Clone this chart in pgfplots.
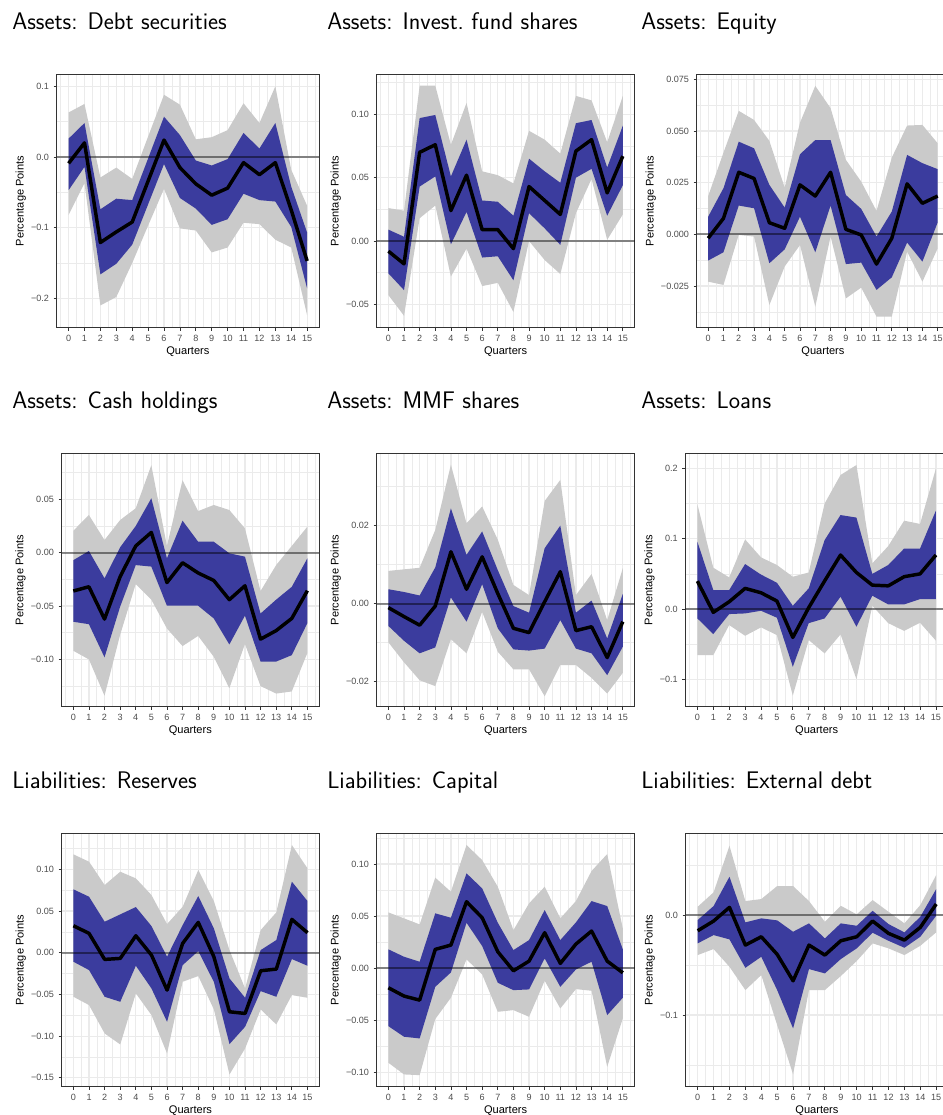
\documentclass[border=0pt]{standalone}
\usepackage{pgfplots}
\pgfplotsset{compat=1.18}
\usepackage{pgfplotstable}
\usepgfplotslibrary{fillbetween}
\usepackage{fontspec}
\newfontfamily\arial{Liberation Sans}
\definecolor{bandblue}{HTML}{3B3C9E}
\definecolor{bandgray}{HTML}{CACACA}
\definecolor{gridc}{HTML}{EBEBEB}
\definecolor{framec}{HTML}{333333}
\definecolor{ticklab}{HTML}{4D4D4D}

\pgfplotstableread{
q m bl bu gl gu
0 -0.009 -0.047 0.026 -0.082 0.063
1 0.020 -0.014 0.048 -0.037 0.075
2 -0.121 -0.166 -0.074 -0.210 -0.029
3 -0.106 -0.151 -0.059 -0.198 -0.015
4 -0.092 -0.124 -0.061 -0.150 -0.031
5 -0.034 -0.067 -0.002 -0.097 0.029
6 0.024 -0.010 0.057 -0.045 0.088
7 -0.015 -0.058 0.031 -0.101 0.074
8 -0.038 -0.073 -0.005 -0.104 0.025
9 -0.054 -0.096 -0.012 -0.135 0.028
10 -0.044 -0.088 -0.003 -0.128 0.038
11 -0.008 -0.052 0.034 -0.093 0.076
12 -0.025 -0.061 0.012 -0.095 0.048
13 -0.008 -0.063 0.048 -0.117 0.100
14 -0.075 -0.099 -0.042 -0.128 -0.018
15 -0.147 -0.186 -0.107 -0.224 -0.069
}\tabA

\pgfplotstableread{
q m bl bu gl gu
0 -0.008 -0.0255 0.009 -0.0426 0.026
1 -0.018 -0.0387 0.0034 -0.059 0.024
2 0.070 0.043 0.097 0.018 0.1226
3 0.076 0.051 0.0995 0.028 0.1226
4 0.024 -0.0026 0.051 -0.028 0.076
5 0.052 0.023 0.080 -0.006 0.109
6 0.009 -0.013 0.032 -0.0355 0.055
7 0.009 -0.012 0.031 -0.033 0.052
8 -0.006 -0.031 0.020 -0.056 0.0455
9 0.043 0.022 0.065 0.000 0.087
10 0.032 0.010 0.055 -0.015 0.080
11 0.021 -0.003 0.046 -0.026 0.069
12 0.071 0.050 0.093 0.022 0.1145
13 0.080 0.057 0.0955 0.049 0.111
14 0.038 0.020 0.058 0.001 0.078
15 0.067 0.044 0.091 0.021 0.1145
}\tabB

\pgfplotstableread{
q m bl bu gl gu
0 -0.0019 -0.0127 0.0085 -0.0229 0.0185
1 0.0077 -0.0087 0.0223 -0.0245 0.0395
2 0.030 0.0139 0.0448 -0.0003 0.0597
3 0.027 0.0126 0.0416 -0.0011 0.0553
4 0.0056 -0.014 0.0239 -0.0342 0.0452
5 0.0029 -0.0073 0.0129 -0.0156 0.0226
6 0.0239 0.0085 0.0387 -0.0052 0.054
7 0.0185 -0.0087 0.0456 -0.035 0.0718
8 0.030 0.0139 0.0456 -0.0011 0.061
9 0.0024 -0.0144 0.019 -0.031 0.036
10 -0.0003 -0.0137 0.0123 -0.0258 0.0255
11 -0.0144 -0.0269 -0.0011 -0.0398 0.0113
12 -0.0019 -0.0208 0.011 -0.0398 0.0371
13 0.0244 -0.004 0.0384 -0.0084 0.0526
14 0.015 -0.0132 0.0344 -0.0229 0.0529
15 0.0185 0.0058 0.0315 -0.0068 0.044
}\tabC

\pgfplotstableread{
q m bl bu gl gu
0 -0.0359 -0.0647 -0.007 -0.0919 0.0206
1 -0.0319 -0.067 0.0016 -0.100 0.0353
2 -0.0622 -0.098 -0.024 -0.134 0.0119
3 -0.0225 -0.0506 0.005 -0.077 0.0306
4 0.0063 -0.0116 0.025 -0.0294 0.0416
5 0.019 -0.013 0.051 -0.044 0.082
6 -0.028 -0.0497 -0.0053 -0.071 0.0063
7 -0.0094 -0.0497 0.030 -0.0875 0.068
8 -0.019 -0.0497 0.0103 -0.078 0.039
9 -0.026 -0.0616 0.0103 -0.0975 0.0447
10 -0.044 -0.086 -0.0006 -0.127 0.040
11 -0.031 -0.059 -0.0037 -0.0856 0.0228
12 -0.081 -0.102 -0.057 -0.125 -0.0359
13 -0.073 -0.102 -0.044 -0.132 -0.0116
14 -0.0616 -0.096 -0.032 -0.130 0.0063
15 -0.0356 -0.066 -0.0053 -0.094 0.0244
}\tabD

\pgfplotstableread{
q m bl bu gl gu
0 -0.001 -0.0057 0.0037 -0.0099 0.0084
1 -0.0033 -0.0095 0.003 -0.015 0.0088
2 -0.0055 -0.0127 0.0021 -0.0196 0.0092
3 -0.0006 -0.0112 0.0093 -0.0211 0.0189
4 0.0133 0.0016 0.0244 -0.0091 0.0356
5 0.0037 -0.0046 0.0125 -0.0127 0.0206
6 0.012 0.005 0.0185 -0.0021 0.0249
7 0.0026 -0.0063 0.0086 -0.0123 0.0164
8 -0.0063 -0.0117 -0.0006 -0.0168 0.0048
9 -0.0074 -0.012 -0.0023 -0.0168 0.0022
10 0.0005 -0.0115 0.0142 -0.0237 0.0263
11 0.0082 -0.0042 0.020 -0.0157 0.0317
12 -0.0069 -0.0115 -0.0023 -0.0157 0.0022
13 -0.0059 -0.0127 0.0008 -0.019 0.0076
14 -0.0138 -0.0183 -0.0089 -0.023 -0.0042
15 -0.0046 -0.011 0.0025 -0.0177 0.0091
}\tabE

\pgfplotstableread{
q m bl bu gl gu
0 0.0398 -0.0133 0.0957 -0.0654 0.1488
1 -0.0047 -0.0355 0.027 -0.0654 0.0588
2 0.0104 -0.0071 0.027 -0.0227 0.045
3 0.0294 -0.0062 0.064 -0.038 0.099
4 0.0232 -0.0024 0.049 -0.026 0.0735
5 0.0114 -0.0123 0.0374 -0.037 0.0626
6 -0.0403 -0.082 0.0047 -0.123 0.046
7 0.002 -0.020 0.0294 -0.044 0.052
8 0.040 -0.0133 0.098 -0.063 0.150
9 0.0768 0.0175 0.1336 -0.036 0.1905
10 0.052 -0.025 0.130 -0.0995 0.2047
11 0.034 0.019 0.050 0.0047 0.065
12 0.033 0.0066 0.0626 -0.020 0.0896
13 0.046 0.0066 0.086 -0.031 0.1256
14 0.050 0.0142 0.086 -0.0194 0.121
15 0.0768 0.0142 0.140 -0.045 0.200
}\tabF

\pgfplotstableread{
q m bl bu gl gu
0 0.0324 -0.0108 0.076 -0.0528 0.118
1 0.0232 -0.0208 0.0672 -0.0628 0.1092
2 -0.008 -0.0528 0.0372 -0.0968 0.0812
3 -0.0068 -0.0588 0.046 -0.110 0.0972
4 0.0204 -0.0156 0.0548 -0.0488 0.0892
5 -0.0028 -0.0428 0.032 -0.0748 0.0692
6 -0.0448 -0.0828 -0.0048 -0.1208 0.0344
7 0.0112 -0.0148 0.0332 -0.0348 0.0552
8 0.0364 0.002 0.068 -0.028 0.0992
9 -0.0048 -0.035 0.0292 -0.068 0.062
10 -0.0708 -0.1096 -0.0308 -0.146 0.0032
11 -0.0728 -0.0888 -0.054 -0.1148 -0.0428
12 -0.0216 -0.046 0.0032 -0.068 0.0272
13 -0.0196 -0.0528 0.0152 -0.086 0.0484
14 0.040 -0.0076 0.0852 -0.0508 0.1292
15 0.024 -0.0156 0.062 -0.054 0.1012
}\tabG

\pgfplotstableread{
q m bl bu gl gu
0 -0.0189 -0.0558 0.018 -0.091 0.0535
1 -0.0269 -0.066 0.0109 -0.1022 0.0478
2 -0.0308 -0.0676 0.0061 -0.1029 0.042
3 0.018 -0.018 0.0526 -0.049 0.0869
4 0.0221 -0.0042 0.0484 -0.0285 0.0734
5 0.0638 0.0436 0.091 0.0083 0.1183
6 0.0484 0.0212 0.0766 -0.0061 0.1038
7 0.0157 -0.0141 0.0436 -0.042 0.0782
8 -0.0026 -0.0212 0.0173 -0.0404 0.0365
9 0.0067 -0.0205 0.0269 -0.0468 0.0622
10 0.034 0.0093 0.0558 -0.0122 0.0782
11 0.0045 -0.018 0.0269 -0.0388 0.0478
12 0.0231 -0.0013 0.0439 -0.0202 0.0644
13 0.0356 0.0061 0.0644 -0.0218 0.0933
14 0.0067 -0.0452 0.0596 -0.0949 0.1096
15 -0.0045 -0.0285 0.018 -0.0484 0.0381
}\tabH

\pgfplotstableread{
q m bl bu gl gu
0 -0.0157 -0.0283 -0.005 -0.040 0.0083
1 -0.006 -0.020 0.009 -0.034 0.0227
2 0.0077 -0.0243 0.0383 -0.0517 0.0693
3 -0.030 -0.0527 -0.0073 -0.075 0.014
4 -0.0217 -0.0417 -0.0033 -0.060 0.016
5 -0.0393 -0.075 -0.0053 -0.110 0.029
6 -0.0657 -0.1133 -0.0167 -0.1593 0.029
7 -0.030 -0.054 -0.0083 -0.075 0.014
8 -0.040 -0.0583 -0.0233 -0.075 -0.0067
9 -0.0257 -0.044 -0.0083 -0.061 0.0093
10 -0.0217 -0.0333 -0.0107 -0.046 0.0007
11 -0.006 -0.0177 0.0043 -0.0283 0.015
12 -0.0183 -0.0257 -0.009 -0.0333 0.0033
13 -0.025 -0.0327 -0.0173 -0.040 -0.0083
14 -0.0123 -0.0217 -0.0017 -0.0307 0.010
15 0.011 -0.0007 0.026 -0.0173 0.040
}\tabI

\pgfplotsset{
  irf/.style={
    scale only axis, anchor=north west,
    height=190.1pt,
    xmin=-0.75, xmax=15.75,
    xtick={0,...,15},
    minor xtick={-0.5,0.5,...,15.5},
    scaled y ticks=false, scaled x ticks=false,
    grid=both,
    major grid style={draw=gridc, line width=0.9pt},
    minor grid style={draw=gridc, line width=0.45pt},
    axis line style={draw=framec, line width=0.8pt},
    tick pos=left, tick align=outside,
    major tick length=2.25pt, minor tick length=0pt,
    tick style={draw=framec, line width=0.6pt},
    ticklabel style={font=\arial\fontsize{6.8}{7}\selectfont, text=ticklab},
    /pgf/number format/assume math mode=true,
    xlabel={Quarters}, ylabel={Percentage Points},
    label style={font=\arial\fontsize{8.3}{9}\selectfont},
    xlabel style={yshift=3pt},
    ylabel style={yshift=-3pt},
  }
}

\newcommand{\irf}[2]{%
  \addplot[draw=none, name path=#2gu, forget plot] table[x=q,y=gu]{#1};
  \addplot[draw=none, name path=#2gl, forget plot] table[x=q,y=gl]{#1};
  \addplot[fill=bandgray, draw=none, forget plot] fill between[of=#2gu and #2gl];
  \addplot[draw=none, name path=#2bu, forget plot] table[x=q,y=bu]{#1};
  \addplot[draw=none, name path=#2bl, forget plot] table[x=q,y=bl]{#1};
  \addplot[fill=bandblue, draw=none, forget plot] fill between[of=#2bu and #2bl];
  \addplot[black, opacity=0.45, line width=1.5pt, forget plot] coordinates {(-0.75,0) (15.75,0)};
  \addplot[black, line width=2.6pt, line join=round, forget plot] table[x=q,y=m]{#1};
}

\newcommand{\ptitle}[3]{\node[anchor=base west, inner sep=0pt, font=\sffamily\fontsize{18}{21}\selectfont] at (#1,#2) {#3};}

\begin{document}
\begin{tikzpicture}
% Row 1
\begin{axis}[irf, at={(42.5pt,-55.7pt)}, width=196.8pt,
  ymin=-0.2415, ymax=0.117, ytick={-0.2,-0.1,0,0.1}, yticklabels={−0.2,−0.1,0.0,0.1},
  minor ytick={-0.15,-0.05,0.05}]
\irf{\tabA}{a}
\end{axis}
\begin{axis}[irf, at={(282.5pt,-55.7pt)}, width=193.4pt,
  ymin=-0.0684, ymax=0.1316, ytick={-0.05,0,0.05,0.1}, yticklabels={−0.05,0.00,0.05,0.10},
  minor ytick={-0.025,0.025,0.075,0.125}]
\irf{\tabB}{b}
\end{axis}
\begin{axis}[irf, at={(522.5pt,-55.7pt)}, width=189.4pt,
  ymin=-0.0452, ymax=0.0774, ytick={-0.025,0,0.025,0.05,0.075}, yticklabels={−0.025,0.000,0.025,0.050,0.075},
  minor ytick={-0.0375,-0.0125,0.0125,0.0375,0.0625}]
\irf{\tabC}{c}
\end{axis}
% Row 2
\begin{axis}[irf, at={(46.2pt,-340.0pt)}, width=193.1pt,
  ymin=-0.1444, ymax=0.0931, ytick={-0.1,-0.05,0,0.05}, yticklabels={−0.10,−0.05,0.00,0.05},
  minor ytick={-0.125,-0.075,-0.025,0.025,0.075}]
\irf{\tabD}{d}
\end{axis}
\begin{axis}[irf, at={(282.5pt,-340.0pt)}, width=193.4pt,
  ymin=-0.0264, ymax=0.0385, ytick={-0.02,0,0.02}, yticklabels={−0.02,0.00,0.02},
  minor ytick={-0.01,0.01,0.03}]
\irf{\tabE}{e}
\end{axis}
\begin{axis}[irf, at={(514.1pt,-340.0pt)}, width=196.8pt,
  ymin=-0.1389, ymax=0.2213, ytick={-0.1,0,0.1,0.2}, yticklabels={−0.1,0.0,0.1,0.2},
  minor ytick={-0.05,0.05,0.15}]
\irf{\tabF}{f}
\end{axis}
% Row 3
\begin{axis}[irf, at={(46.3pt,-625.0pt)}, width=193.1pt,
  ymin=-0.1608, ymax=0.1432, ytick={-0.15,-0.1,-0.05,0,0.05,0.1}, yticklabels={−0.15,−0.10,−0.05,0.00,0.05,0.10},
  minor ytick={-0.125,-0.075,-0.025,0.025,0.075,0.125}]
\irf{\tabG}{g}
\end{axis}
\begin{axis}[irf, at={(282.5pt,-625.0pt)}, width=193.4pt,
  ymin=-0.1141, ymax=0.1295, ytick={-0.1,-0.05,0,0.05,0.1}, yticklabels={−0.10,−0.05,0.00,0.05,0.10},
  minor ytick={-0.075,-0.025,0.025,0.075,0.125}]
\irf{\tabH}{h}
\end{axis}
\begin{axis}[irf, at={(514.3pt,-625.0pt)}, width=196.8pt,
  ymin=-0.1717, ymax=0.0817, ytick={-0.1,0}, yticklabels={−0.1,0.0},
  minor ytick={-0.15,-0.05,0.05}]
\irf{\tabI}{i}
\end{axis}

\ptitle{9pt}{-22pt}{Assets: Debt securities}
\ptitle{245.25pt}{-22pt}{Assets: Invest.\ fund shares}
\ptitle{480.75pt}{-22pt}{Assets: Equity}
\ptitle{9pt}{-306.2pt}{Assets: Cash holdings}
\ptitle{245.25pt}{-306.2pt}{Assets: MMF shares}
\ptitle{480.75pt}{-306.2pt}{Assets: Loans}
\ptitle{9pt}{-591.2pt}{Liabilities: Reserves}
\ptitle{245.25pt}{-591.2pt}{Liabilities: Capital}
\ptitle{480.75pt}{-591.2pt}{Liabilities: External debt}

\pgfresetboundingbox
\path[use as bounding box] (0pt,0pt) rectangle (707.25pt,-836.25pt);
\end{tikzpicture}
\end{document}
